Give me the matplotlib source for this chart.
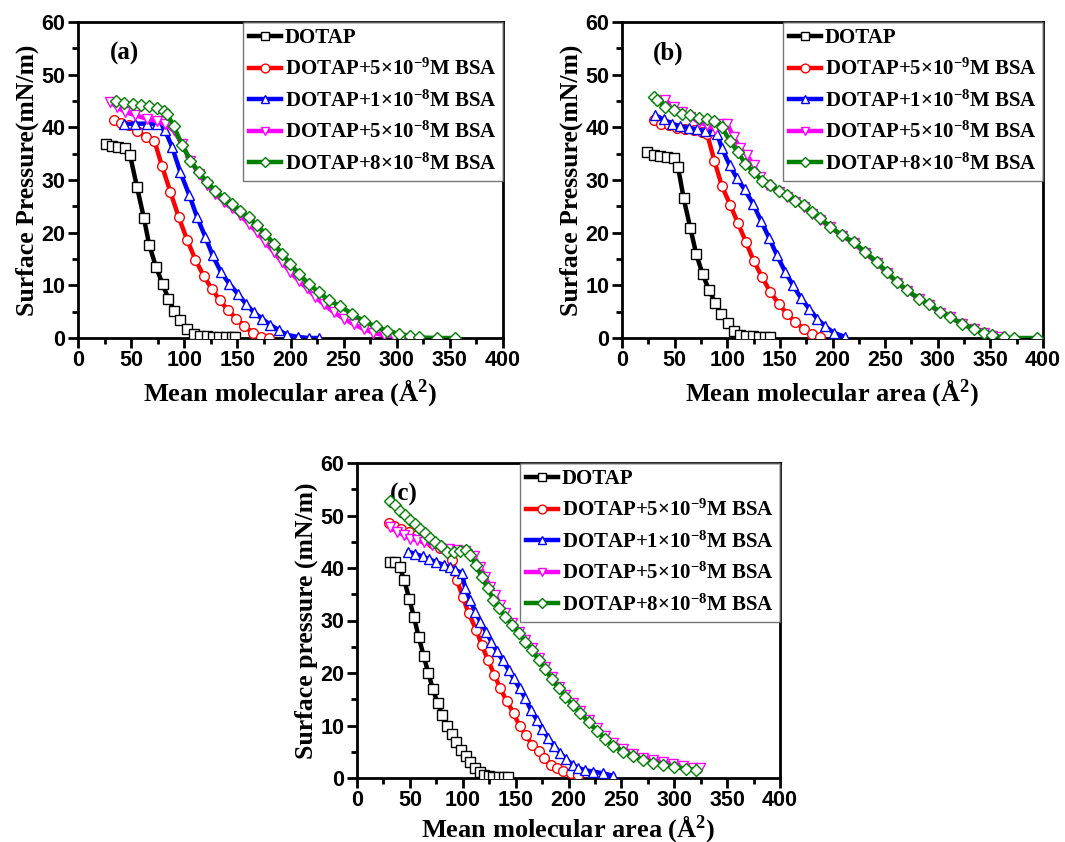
import matplotlib
matplotlib.use("Agg")
import matplotlib.pyplot as plt
from matplotlib.ticker import MultipleLocator

plt.rcParams['mathtext.fontset'] = 'custom'
plt.rcParams['mathtext.rm'] = 'Liberation Serif:bold'
plt.rcParams['mathtext.it'] = 'Liberation Serif:bold'
plt.rcParams['mathtext.bf'] = 'Liberation Serif:bold'
plt.rcParams['mathtext.default'] = 'rm'

labels = ['DOTAP',
          r'DOTAP+5×10$^{-9}$M BSA',
          r'DOTAP+1×10$^{-8}$M BSA',
          r'DOTAP+5×10$^{-8}$M BSA',
          r'DOTAP+8×10$^{-8}$M BSA']
colors = ['black', '#ff0000', '#0000ff', '#ff00ff', '#008000']
markers = ['s', 'o', '^', 'v', 'D']

# ---------------- panel (a) ----------------
a_x0 = [26, 32, 38, 44, 49, 55.5, 62, 67, 73.4, 79.7, 85, 90.7, 96.3, 102.6, 109, 115, 121, 127, 133, 139, 145, 148]
a_y0 = [36.8, 36.5, 36.3, 36.0, 34.7, 28.7, 22.8, 17.7, 13.5, 10.2, 7.5, 5.1, 3.4, 1.8, 0.8, 0.4, 0.3, 0.2, 0.2, 0.2, 0.1, 0.1]
a_x1 = [33.6, 40, 47.7, 55.5, 64, 71.8, 79, 87, 94.7, 102.6, 110.4, 118.3, 126, 133.3, 141, 149, 156.5, 164.4, 172, 179.5]
a_y1 = [41.3, 40.9, 40.4, 39.3, 38.2, 37.5, 32.7, 27.7, 23.0, 18.7, 14.9, 11.8, 9.3, 7.2, 5.3, 3.7, 2.3, 1.0, 0.2, 0.0]
a_x2 = [43.6, 54, 65, 74.4, 82, 88.5, 96.3, 104.8, 112, 119.8, 126.7, 134.6, 142.4, 150.3, 158, 165.3, 173, 181, 188.9, 196.7, 207, 217, 226.5]
a_y2 = [40.6, 40.7, 40.7, 40.6, 39.4, 36.3, 31.5, 27.1, 23.0, 19.2, 15.7, 12.5, 10.3, 8.4, 6.5, 4.9, 3.7, 2.5, 1.5, 0.6, 0.2, 0.0, 0.0]
a_x3 = [30.4, 36.7, 44.5, 54, 65, 74.4, 82, 90, 97.9, 105.7, 113.6, 121.4, 129.3, 137, 145, 152.8, 160.6, 168.5, 176.3, 184.2, 192,
        199.8, 207.7, 215.5, 223.4, 231.2, 240.6, 250, 259.5, 268.9, 278, 287.7, 297, 305]
a_y3 = [44.8, 43.9, 42.9, 42.3, 41.6, 41.2, 40.6, 39.4, 36.9, 33.7, 31.2, 29.0, 27.4, 25.8, 24.6, 23.3, 21.7, 20.1, 18.2, 16.3, 14.4,
        12.5, 10.9, 9.4, 7.8, 6.4, 4.9, 3.7, 2.6, 1.7, 1.0, 0.5, 0.1, 0.0]
a_x4 = [36, 43.6, 51.5, 59, 67, 74.4, 80.6, 83.8, 90, 97.9, 105.7, 113.6, 121.4, 129.3, 137, 145, 152.8, 160.6, 168.5, 176.3, 184.2,
        192, 199.8, 207.7, 217, 226.5, 235.9, 246.9, 257.9, 268.9, 280, 290.8, 301.8, 312.8, 320.6, 338, 355]
a_y4 = [45.0, 44.6, 44.4, 44.2, 44.0, 43.7, 43.1, 42.6, 40.2, 36.7, 33.7, 31.5, 29.6, 28.0, 26.6, 25.4, 24.2, 23.0, 21.4, 19.8, 17.9,
        16.0, 14.1, 12.2, 10.3, 8.7, 7.2, 6.0, 4.6, 3.2, 2.2, 1.4, 0.8, 0.3, 0.1, 0.0, 0.0]

# ---------------- panel (b) ----------------
b_x0 = [23.8, 30, 36.4, 42.8, 49, 53.2, 58.6, 65, 70.6, 76.6, 82.7, 88.7, 94.4, 100.4, 106, 111.8, 118, 124, 130, 136, 141]
b_y0 = [35.4, 34.8, 34.6, 34.4, 34.1, 32.5, 26.5, 20.8, 15.9, 12.1, 9.1, 6.6, 4.6, 2.8, 1.3, 0.5, 0.3, 0.3, 0.2, 0.2, 0.1]
b_x1 = [30, 37, 44.3, 52.3, 60.2, 68, 76, 80.8, 87.7, 95, 103, 110.2, 117.8, 125, 133, 141, 148.9, 156.8, 164.7, 172.6, 180.5, 187.8]
b_y1 = [41.3, 40.7, 40.4, 39.9, 39.7, 39.4, 39.1, 38.8, 33.7, 28.8, 25.2, 21.8, 18.2, 14.7, 11.6, 8.7, 6.5, 4.6, 3.0, 1.8, 0.8, 0.2]
b_x2 = [31.7, 39.6, 47.5, 55.4, 63.3, 71.3, 79.2, 87, 90.3, 95, 102.3, 109.3, 116.5, 124.5, 132, 140, 147.3, 155.2, 162.5, 170,
        177.7, 185.3, 193.2, 201.1, 212.2]
b_y2 = [42.3, 41.5, 40.7, 40.2, 39.9, 39.6, 39.3, 39.4, 38.8, 36.0, 32.8, 30.3, 28.2, 25.5, 22.3, 18.9, 15.7, 12.5, 10.0, 7.6,
        5.6, 3.7, 2.2, 1.0, 0.2]
b_x3 = [41.2, 49, 57, 65, 72.8, 80.8, 88.7, 95, 99.8, 106, 112.4, 118.8, 125, 131.4, 137.8, 148.9, 156.8, 164.7, 172.6, 180.5,
        188.4, 198, 209, 220, 231.2, 242.3, 251.8, 261.3, 270.8, 281.9, 291.4, 302.5, 312, 323, 334, 343.6, 351.5, 360]
b_y3 = [45.1, 43.9, 42.9, 42.0, 41.0, 40.4, 39.7, 40.7, 40.7, 38.2, 36.0, 34.7, 32.8, 30.6, 29.0, 27.8, 26.8, 25.8, 24.8, 23.6,
        22.4, 21.0, 19.4, 18.0, 16.1, 14.2, 12.3, 10.5, 9.0, 7.4, 6.3, 4.8, 3.9, 2.6, 1.7, 0.9, 0.4, 0.1]
b_x4 = [30, 33.2, 41.2, 49, 57, 65, 72.8, 80.8, 87, 95, 102.3, 110, 117.2, 125, 133, 141, 148.9, 156.8, 164.7, 172.6, 180.5,
        188.4, 198, 209, 220, 231.2, 242.3, 251.8, 261.3, 270.8, 281.9, 291.4, 302.5, 312, 323, 334, 343.6, 351.5, 362.6, 372, 394]
b_y4 = [45.8, 45.1, 43.9, 43.2, 42.6, 42.3, 41.8, 41.6, 41.2, 40.0, 37.5, 35.3, 33.1, 31.5, 29.9, 29.0, 28.0, 27.2, 26.1, 25.2, 23.9,
        22.7, 21.1, 19.5, 18.2, 16.3, 14.4, 12.5, 10.6, 9.1, 7.5, 6.5, 4.9, 4.0, 2.7, 1.8, 1.0, 0.5, 0.1, 0.0, 0.0]

# ---------------- panel (c) ----------------
c_x0 = [31.5, 36.2, 40.3, 44.7, 49.4, 53.9, 58.3, 63, 67.4, 71.8, 76.2, 80.6, 85, 89.8, 93.9, 98.3, 102.7, 107, 111.8, 116,
        120.3, 124.7, 129, 134, 138.6, 142.7]
c_y0 = [41.1, 41.1, 40.2, 37.7, 34.1, 30.6, 26.9, 23.3, 20.0, 16.9, 14.3, 12.0, 10.0, 8.4, 6.8, 5.4, 4.1, 3.0, 1.9, 1.1,
        0.6, 0.3, 0.2, 0.2, 0.1, 0.1]
c_x1 = [30, 34.6, 41.9, 48.8, 56.7, 63.6, 70.9, 78.7, 85, 89.8, 94.5, 100, 105.5, 112.8, 118, 123.8, 130, 135.4, 141.7, 148,
        153.7, 159.7, 165.4, 171.7, 177.3, 183.3, 189, 194.6, 202.5, 209.4]
c_y1 = [48.5, 48.0, 47.5, 46.9, 46.3, 45.6, 44.7, 43.9, 43.4, 41.5, 37.7, 34.5, 31.4, 28.2, 25.3, 22.5, 19.6, 17.1, 14.6, 12.4,
        9.9, 8.2, 6.3, 5.1, 3.8, 2.5, 1.9, 1.3, 1.0, 0.6]
c_x2 = [48.5, 55, 62, 68, 75, 82, 88, 93, 99.2, 102.4, 107, 111.8, 116.5, 121.9, 127, 132.3, 138, 143.3, 148, 153.7, 159, 164.4,
        170, 175.4, 181, 186.5, 192, 197.8, 203.8, 209.4, 215.7, 223.6, 233, 242.5]
c_y2 = [43.1, 42.7, 42.2, 41.7, 41.1, 40.6, 40.1, 39.6, 39.1, 36.1, 33.9, 31.7, 29.8, 27.9, 26.0, 24.1, 22.4, 20.6, 19.0, 17.1, 15.2, 13.0,
        11.1, 9.3, 7.6, 6.1, 4.8, 3.6, 2.5, 1.9, 1.5, 1.2, 0.9, 0.4]
c_x3 = [31.5, 37.8, 44, 50.4, 56.7, 63.6, 70.9, 78.7, 86.6, 94.5, 102.4, 110.2, 116.5, 121.3, 126, 130.7, 135.4, 140.2, 146.5,
        152.8, 159, 165.4, 171.7, 178, 184.3, 190.6, 196.9, 204, 211, 219, 226.8, 234.6, 242.5, 252, 261.4, 270.9, 280.3, 289.8,
        299.2, 308.7, 318, 324.4]
c_y3 = [47.9, 46.9, 46.3, 45.6, 45.3, 44.9, 44.4, 43.9, 43.7, 43.4, 43.2, 42.3, 40.2, 38.3, 36.4, 34.9, 33.0, 31.4, 29.5,
        27.9, 26.3, 24.7, 22.8, 21.2, 19.3, 17.4, 15.8, 14.3, 12.7, 11.1, 9.5, 8.0, 6.7, 5.6, 4.6, 3.9, 3.4, 3.0,
        2.6, 2.3, 2.0, 1.9]
c_x4 = [31.5, 36.2, 41, 45.7, 50.4, 55, 59.8, 64.6, 69.3, 74, 79.4, 85, 91.3, 97.6, 103, 107, 112.4, 118, 123.5, 129, 134.5, 140,
        146.5, 152.8, 159, 165.4, 171.7, 178, 184.3, 190.6, 196.9, 203.8, 211, 219, 226.8, 234.6, 242.5, 252, 261.4, 270.9, 280.3,
        289.8, 300, 311, 321]
c_y4 = [52.7, 52.0, 50.9, 50.1, 49.1, 48.4, 47.5, 46.6, 45.8, 45.0, 44.2, 43.1, 43.0, 43.2, 43.4, 42.5, 40.6, 38.3, 36.1, 34.0, 32.3, 30.7,
        29.2, 27.6, 26.0, 24.4, 22.5, 20.7, 18.8, 17.1, 15.5, 13.9, 12.4, 10.6, 9.0, 7.4, 6.1, 5.0, 4.1, 3.4, 2.9,
        2.5, 2.1, 1.8, 1.6]

panels = [
    ('(a)', 'Surface Pressure(mN/m)', [(a_x0, a_y0), (a_x1, a_y1), (a_x2, a_y2), (a_x3, a_y3), (a_x4, a_y4)]),
    ('(b)', 'Surface Pressure(mN/m)', [(b_x0, b_y0), (b_x1, b_y1), (b_x2, b_y2), (b_x3, b_y3), (b_x4, b_y4)]),
    ('(c)', 'Surface pressure (mN/m)', [(c_x0, c_y0), (c_x1, c_y1), (c_x2, c_y2), (c_x3, c_y3), (c_x4, c_y4)]),
]

W, H = 1065, 842
fig = plt.figure(figsize=(W / 100, H / 100), dpi=100)
boxes = [(78, 22, 503, 338), (622, 22, 1043, 338), (357, 463, 780, 778)]
xpads = [4, 4, 1]

serif = 'Liberation Serif'
sans = 'Liberation Sans'

for (tag, ylab, series), (l, t, r, b), xpad in zip(panels, boxes, xpads):
    ax = fig.add_axes([l / W, 1 - b / H, (r - l) / W, (b - t) / H])
    for i, (xs, ys) in enumerate(series):
        ax.plot(xs, ys, color=colors[i], lw=3.2, marker=markers[i],
                ms=7 if markers[i] != 'D' else 6, mfc='white', mec=colors[i], mew=1.0,
                label=labels[i], zorder=3 + i * 0.1)
    ax.set_xlim(0, 400)
    ax.set_ylim(0, 60)
    ax.xaxis.set_major_locator(MultipleLocator(50))
    ax.xaxis.set_minor_locator(MultipleLocator(25))
    ax.yaxis.set_major_locator(MultipleLocator(10))
    ax.yaxis.set_minor_locator(MultipleLocator(5))
    ax.tick_params(which='major', direction='out', length=7, width=2, top=False, right=False, pad=2)
    ax.tick_params(which='minor', direction='out', length=4, width=2, top=False, right=False)
    for s in ax.spines.values():
        s.set_linewidth(2.0)
    for lab in ax.get_xticklabels() + ax.get_yticklabels():
        lab.set_fontfamily(sans)
        lab.set_fontweight('bold')
        lab.set_fontsize(15.5)
    ax.set_xlabel(r'Mean molecular area (Å$^{2}$)', fontfamily=serif, fontweight='bold', fontsize=19, labelpad=xpad)
    ax.set_ylabel(ylab, fontfamily=serif, fontweight='bold', fontsize=18.5, labelpad=2)
    ax.text(44, 54, tag, fontfamily=serif, fontweight='bold', fontsize=18, ha='center', va='center')
    leg = ax.legend(loc='upper right', bbox_to_anchor=(1.0, 1.0), borderaxespad=0.0,
                    prop={'family': serif, 'weight': 'bold', 'size': 15},
                    handlelength=1.5, handletextpad=0.2, labelspacing=0.5, borderpad=0.3,
                    frameon=True, fancybox=False, markerscale=0.9)
    leg.get_frame().set_edgecolor('#555555')
    leg.get_frame().set_linewidth(1.0)

fig.savefig('out.png', dpi=100)
